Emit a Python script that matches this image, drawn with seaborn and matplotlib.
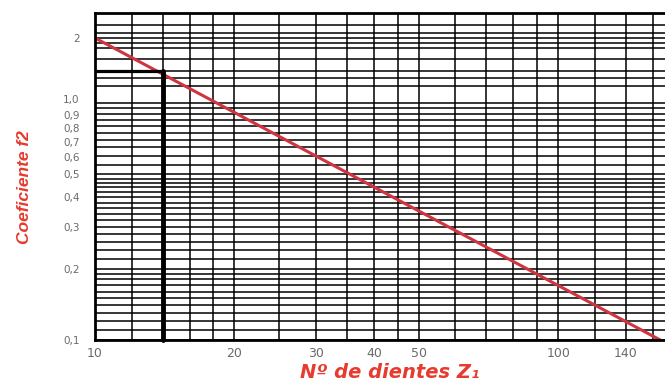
import numpy as np
import matplotlib
matplotlib.use("Agg")
import matplotlib.pyplot as plt
import matplotlib.transforms as mtransforms
import seaborn as sns

# Datos (escala log-log)
z_line = [10, 166]          # Nº de dientes Z1
f2_line = [2.0, 0.1]        # Coeficiente f2
z_sel = 14                  # punto marcado
f2_sel = 1.4

x_tick_vals = [10, 20, 30, 40, 50, 100, 140]
x_tick_labels = ["10", "20", "30", "40", "50", "100", "140"]
y_tick_vals = [0.1, 0.2, 0.3, 0.4, 0.5, 0.6, 0.7, 0.8, 0.9, 1.0, 2.0]
y_tick_labels = ["0,1", "0,2", "0,3", "0,4", "0,5", "0,6", "0,7", "0,8", "0,9", "1,0", "2"]

x_grid = [10, 12, 14, 16, 18, 20, 25, 30, 35, 40, 45, 50, 60, 70, 80, 90, 100, 120, 140, 160]
y_grid = ([0.11, 0.12, 0.13, 0.14, 0.15, 0.16, 0.17, 0.18, 0.19]
          + [0.2, 0.22, 0.24, 0.26, 0.28, 0.3, 0.32, 0.34, 0.36, 0.38, 0.4,
             0.42, 0.44, 0.46, 0.48]
          + [0.5, 0.55, 0.6, 0.65, 0.7, 0.75, 0.8, 0.85, 0.9, 0.95, 1.0]
          + [1.2, 1.3, 1.4, 1.6, 1.8, 1.9, 2.0, 2.1, 2.3])

red_line = "#cf3540"
red_text = "#e63b2e"

# el papel original tiene la parte superior (>1) algo comprimida
K_TOP = 0.911


def fwd(y):
    l = np.log10(np.maximum(y, 1e-6))
    return np.where(l > 0, K_TOP * l, l)


def inv(v):
    return np.where(v > 0, 10 ** (v / K_TOP), 10 ** v)


sns.set_style("white")

fig = plt.figure(figsize=(6.65, 3.85), dpi=100)
ax = fig.add_axes([95 / 665, 1 - 340 / 385, 570 / 665, (340 - 13) / 385])

ax.set_xscale("log")
ax.set_yscale("function", functions=(fwd, inv))
ax.set_xlim(10, 170)
ax.set_ylim(0.1, 2.61)

# rejilla (ticks menores = lineas de rejilla, mayores = etiquetas)
ax.set_xticks(x_grid, minor=True)
ax.set_yticks(y_grid, minor=True)
ax.set_xticks(x_tick_vals)
ax.set_xticklabels(x_tick_labels)
ax.set_yticks(y_tick_vals)
ax.set_yticklabels(y_tick_labels)
ax.xaxis.set_minor_formatter(matplotlib.ticker.NullFormatter())
ax.yaxis.set_minor_formatter(matplotlib.ticker.NullFormatter())
ax.grid(which="both", color="black", lw=1.1)
ax.set_axisbelow(True)

ax.tick_params(which="both", length=0)
ax.tick_params(axis="x", pad=5, labelsize=9, labelcolor="#6a6a6a")
ax.tick_params(axis="y", pad=11, labelsize=7.5, labelcolor="#6a6a6a")

# pequeños desplazamientos (px) de etiquetas como en el original
label_shift = {"1,0": 4, "0,9": -1, "0,8": -2, "0,7": -2, "0,6": -1}
for tick in ax.yaxis.get_major_ticks():
    lbl = tick.label1
    dy = label_shift.get(lbl.get_text())
    if dy:
        lbl.set_transform(lbl.get_transform()
                          + mtransforms.ScaledTranslation(0, dy / 100, fig.dpi_scale_trans))

for side in ["top", "left", "bottom"]:
    ax.spines[side].set_color("black")
    ax.spines[side].set_linewidth(2)
ax.spines["right"].set_visible(False)

# recta del coeficiente
sns.lineplot(x=z_line, y=f2_line, ax=ax, color=red_line, lw=2.2,
             estimator=None, sort=False)

# lectura del punto marcado
sns.lineplot(x=[z_line[0], z_sel], y=[f2_sel, f2_sel], ax=ax, color="black",
             lw=2.3, estimator=None, sort=False)
sns.lineplot(x=[z_sel, z_sel], y=[f2_line[1], f2_sel], ax=ax, color="black",
             lw=3.5, estimator=None, sort=False, clip_on=False)

ax.set_xlabel("")
ax.set_ylabel("")

fig.text(25 / 665, 1 - 187 / 385, "Coeficiente f2", rotation=90,
         ha="center", va="center", color=red_text, fontsize=12.5,
         fontweight="bold", fontstyle="italic", family="Liberation Sans")
fig.text(390 / 665, 1 - 372 / 385, "Nº de dientes Z₁",
         ha="center", va="center", color=red_text, fontsize=14,
         fontweight="bold", fontstyle="italic", family="DejaVu Sans")

fig.savefig("out.png", dpi=100)
